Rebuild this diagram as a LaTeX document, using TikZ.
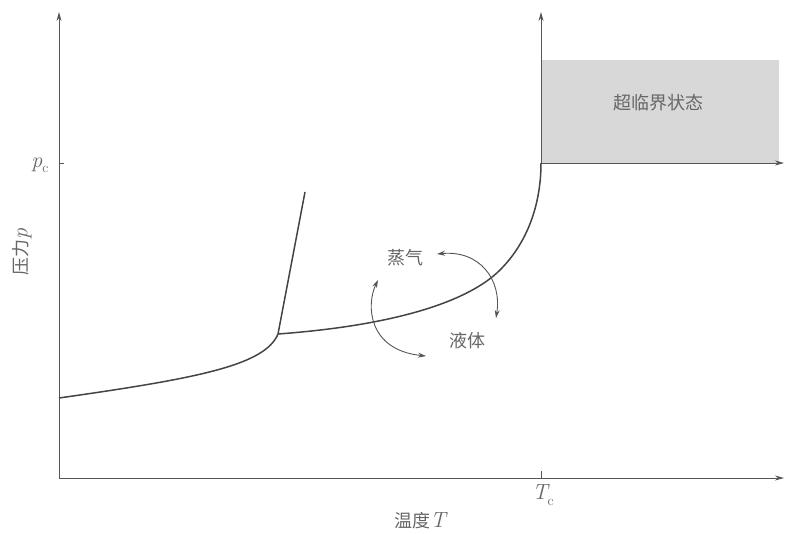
\documentclass[tikz,border=0pt]{standalone}
\usepackage{fontspec}
\newfontfamily\cjk{Noto Sans CJK SC}
\usetikzlibrary{arrows.meta}
\definecolor{axisgray}{HTML}{555555}
\definecolor{curvegray}{HTML}{444444}
\definecolor{textgray}{HTML}{666666}
\definecolor{boxgray}{HTML}{D8D8D8}
\newcommand{\mysub}[1]{\raisebox{-0.25em}{\fontsize{14}{16}\selectfont #1}}
\tikzset{
  axis/.style={draw=axisgray, line width=0.9pt, -{Stealth[length=9pt,width=5pt]}},
  tick/.style={draw=axisgray, line width=0.8pt},
  phase/.style={draw=curvegray, line width=1.5pt},
  cyc/.style={draw=axisgray, line width=0.9pt, {Stealth[length=8pt,width=5pt]}-{Stealth[length=8pt,width=5pt]}},
  lab/.style={text=textgray, font=\cjk\fontsize{18}{20}\selectfont, inner sep=0pt},
  mlab/.style={text=textgray, font=\fontsize{22}{24}\selectfont\itshape, inner sep=0pt}
}
\begin{document}
\begin{tikzpicture}[x=1pt,y=-1pt]
\useasboundingbox (0,0) rectangle (786,534);
% key points
\coordinate (O) at (59,478);
\coordinate (ytop) at (59,12);
\coordinate (xend) at (784,478);
\coordinate (P) at (59,163);
\coordinate (Pt) at (64,163);
\coordinate (T) at (541,478);
\coordinate (Tt) at (541,471);
\coordinate (C) at (541,163);
\coordinate (ctop) at (541,12);
\coordinate (cright) at (784,163);
\coordinate (S) at (59,398);
\coordinate (J) at (278,334);
\coordinate (M) at (305,192);
\coordinate (V) at (500,270);
% supercritical region
\fill[boxgray] (541,60) rectangle (779,163);
\node[lab] (sc) at (658,103) {超临界状态};
% axes
\draw[axis] (O) -- (ytop);
\draw[axis] (O) -- (xend);
\draw[axis] (C) -- (ctop);
\draw[axis] (C) -- (cright);
\draw[tick] (P) -- (Pt);
\draw[tick] (T) -- (Tt);
% axis labels
\node[mlab] (pc) at (40,165) {p\mysub{\upshape c}};
\node[mlab] (Tc) at (543,495) {T\mysub{\upshape c}};
\node[lab, rotate=90] (plab) at (22,252) {压力{\fontfamily{lmr}\fontsize{22}{24}\selectfont\itshape p}};
\node[lab] (tlab) at (420,521) {温度{\fontsize{22}{24}\selectfont\rmfamily\itshape T}};
% phase boundaries
\draw[phase] (S) .. controls (200,378) and (265,365) .. (J);
\draw[phase] (J) -- (M);
\draw[phase] (J) .. controls (400,325) and (470,300) .. (V)
                 .. controls (530,240) and (541,200) .. (C);
% phase labels
\node[lab] (vap) at (405,258) {蒸气};
\node[lab] (liq) at (467,341) {液体};
% cycle arrows
\draw[cyc] (437,254) .. controls (480,250) and (502,280) .. (496,318);
\draw[cyc] (378,280) .. controls (366,305) and (368,350) .. (426,356);
\end{tikzpicture}
\end{document}
